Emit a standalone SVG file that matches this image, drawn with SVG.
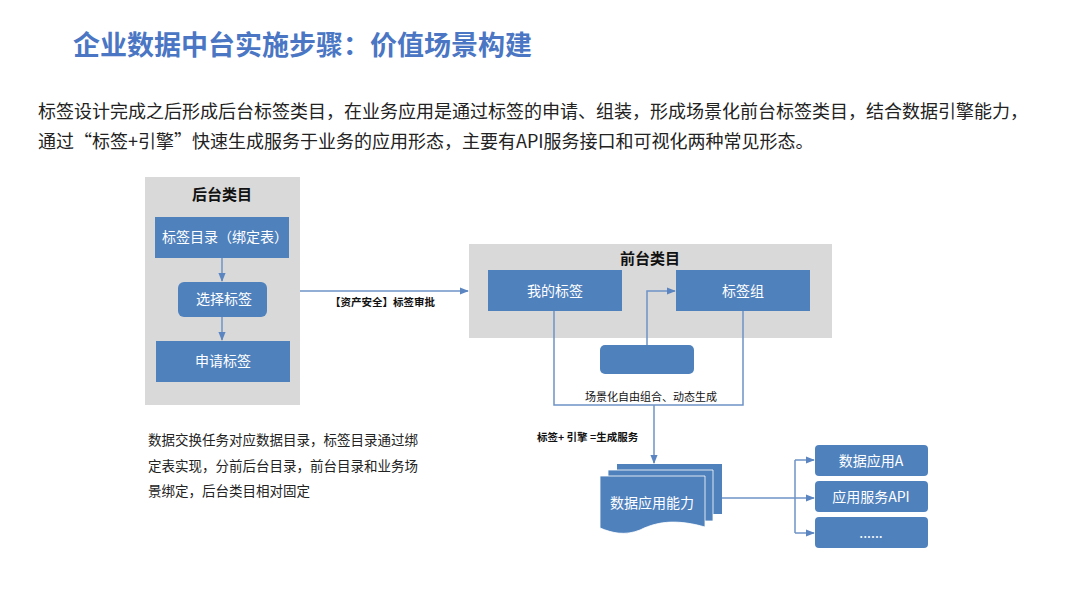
<svg xmlns="http://www.w3.org/2000/svg" width="1080" height="608" viewBox="0 0 1080 608">
<defs>
<style>
text{font-family:"Microsoft YaHei","Noto Sans CJK SC","Liberation Sans",sans-serif}
.panel{fill:#d9d9d9}
.box{fill:#4f81bd}
.wt{fill:#fff;font-size:14px}
.ln{fill:none;stroke:#6f93c6;stroke-width:1.5}
.ptitle{font-size:15px;font-weight:bold;fill:#111}
.lab{font-size:11px;fill:#111}
.labb{font-size:10.5px;font-weight:bold;fill:#111}
.body{font-size:18px;fill:#222}
.note{font-size:13.5px;fill:#222}
</style>
<marker id="ah" viewBox="0 0 10 10" refX="9" refY="5" markerWidth="6" markerHeight="6" orient="auto"><path d="M0,1 L10,5 L0,9 z" fill="#5b85c0"/></marker>
</defs>
<rect width="1080" height="608" fill="#fff"/>
<text x="73" y="55" font-size="27" font-weight="bold" fill="#4a76c4">企业数据中台实施步骤：价值场景构建</text>
<text class="body" x="38" y="118">标签设计完成之后形成后台标签类目，在业务应用是通过标签的申请、组装，形成场景化前台标签类目，结合数据引擎能力，</text>
<text class="body" x="38" y="148">通过“标签+引擎”快速生成服务于业务的应用形态，主要有API服务接口和可视化两种常见形态。</text>

<g id="back-panel">
<rect class="panel" x="145" y="177" width="155" height="228"/>
<text class="ptitle" x="222" y="200" text-anchor="middle">后台类目</text>
</g>
<g id="node-catalog">
<rect class="box" x="155" y="217" width="134" height="41"/>
<text class="wt" x="162" y="242">标签目录（绑定表）</text>
</g>
<g id="node-select">
<rect class="box" x="178" y="282" width="89" height="35" rx="6"/>
<text class="wt" x="224" y="304" text-anchor="middle">选择标签</text>
</g>
<g id="node-apply">
<rect class="box" x="156" y="341" width="134" height="41"/>
<text class="wt" x="223" y="366" text-anchor="middle">申请标签</text>
</g>

<g id="front-panel">
<rect class="panel" x="469" y="244" width="363" height="94"/>
<text class="ptitle" x="650" y="264" text-anchor="middle">前台类目</text>
</g>
<g id="node-mytags">
<rect class="box" x="488" y="270" width="134" height="41"/>
<text class="wt" x="555" y="296" text-anchor="middle">我的标签</text>
</g>
<g id="node-taggroup">
<rect class="box" x="676" y="270" width="134" height="41"/>
<text class="wt" x="743" y="296" text-anchor="middle">标签组</text>
</g>
<g id="node-blank">
<rect class="box" x="600" y="345" width="94" height="29" rx="5"/>
</g>

<g id="node-capability">
<path class="box" d="M617,464 H722 V514 H617 z"/>
<path class="box" d="M608,470 H713 V521 H608 z" stroke="#fff" stroke-width="0.8"/>
<path class="box" d="M600,476 H705 V527 C680,520 660,520 640,530 C625,536 612,533 600,528 z" stroke="#fff" stroke-width="0.8"/>
<text class="wt" x="652" y="508" text-anchor="middle">数据应用能力</text>
</g>

<g id="node-appA">
<rect class="box" x="815" y="445" width="113" height="31" rx="4"/>
<text class="wt" x="871" y="466" text-anchor="middle">数据应用A</text>
</g>
<g id="node-api">
<rect class="box" x="815" y="481" width="113" height="31" rx="4"/>
<text class="wt" x="871" y="502" text-anchor="middle">应用服务API</text>
</g>
<g id="node-more">
<rect class="box" x="815" y="517" width="113" height="31" rx="4"/>
<text class="wt" x="871" y="538" text-anchor="middle">......</text>
</g>

<g id="connectors">
<path class="ln" d="M222,258 V281" marker-end="url(#ah)"/>
<path class="ln" d="M222,317 V340" marker-end="url(#ah)"/>
<path class="ln" d="M300,291 H468" marker-end="url(#ah)"/>
<path class="ln" d="M647,345 V291 H675" marker-end="url(#ah)"/>
<path class="ln" d="M554,311 V405 H743 V311"/>
<path class="ln" d="M654,405 V463" marker-end="url(#ah)"/>
<path class="ln" d="M722,498 H814" marker-end="url(#ah)"/>
<path class="ln" d="M795,460 V533"/>
<path class="ln" d="M795,460 H814" marker-end="url(#ah)"/>
<path class="ln" d="M795,533 H814" marker-end="url(#ah)"/>
</g>

<g id="labels">
<text class="labb" x="330" y="306">【资产安全】标签审批</text>
<text class="lab" x="585" y="401">场景化自由组合、动态生成</text>
<text class="labb" x="537" y="441">标签+ 引擎 =生成服务</text>
<text class="note" x="148" y="445">数据交换任务对应数据目录，标签目录通过绑</text>
<text class="note" x="148" y="471">定表实现，分前后台目录，前台目录和业务场</text>
<text class="note" x="148" y="496">景绑定，后台类目相对固定</text>
</g>
</svg>
